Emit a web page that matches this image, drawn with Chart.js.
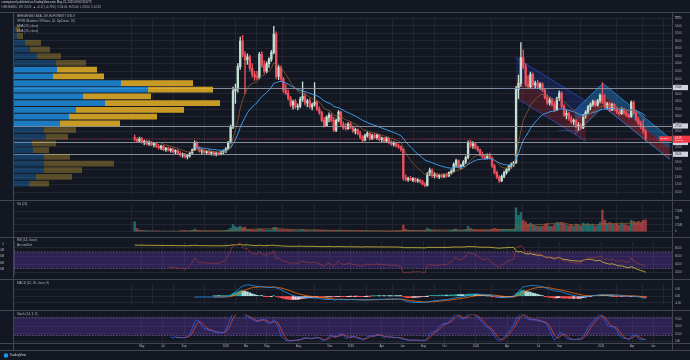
<!DOCTYPE html>
<html>
<head>
<meta charset="utf-8">
<script src="https://cdn.jsdelivr.net/npm/chart.js@4.4.1/dist/chart.umd.min.js"></script>
<style>
  body { margin: 0; background: #131722; width: 690px; height: 360px; overflow: hidden; position: relative; }
  canvas { position: absolute; }
</style>
</head>
<body>
<canvas id="cPrice" width="690" height="187" style="left:0;top:13px"></canvas>
<canvas id="cVP" width="658" height="100" style="left:14px;top:20px"></canvas>
<canvas id="cVol" width="690" height="37" style="left:0;top:200px"></canvas>
<canvas id="cRsi" width="690" height="42" style="left:0;top:237px"></canvas>
<canvas id="cMacd" width="690" height="31" style="left:0;top:279px"></canvas>
<canvas id="cStoch" width="690" height="40" style="left:0;top:310px"></canvas>
<canvas id="cFrame" width="690" height="360" style="left:0;top:0"></canvas>
<script>
// weekly bars, BerGenBio (OSE), first bar week of 10 Apr 2017
const firstBarDate = '2017-04-10';
const opens = [
  24.5,24.0,23.5,24.2,23.2,23.5,22.8,23.2,22.6,22.9, 22.1,21.8,22.2,21.3,21.6,21.1,21.4,20.7,21.0,20.3,
  19.9,20.1,19.4,19.7,20.4,21.2,23.0,21.8,20.9,21.1, 20.5,20.8,20.3,20.6,20.0,20.4,20.1,20.6,20.9,21.5,
  23.2,27.2,36.8,37.4,43.2,50.0,46.4,45.0,45.8,42.8, 41.2,40.4,40.3,46.5,43.6,42.0,44.0,45.2,47.0,51.8,
  40.6,43.0,40.0,37.0,36.2,34.8,33.0,34.0,32.6,32.8, 34.6,35.4,33.6,34.2,32.6,33.2,33.8,32.0,31.0,29.0,
  27.6,29.8,30.4,29.0,26.4,29.0,31.2,28.0,27.0,26.8, 28.0,27.2,26.2,26.6,25.5,24.6,23.8,25.0,25.6,24.2,
  25.0,24.5,25.1,23.9,24.3,23.5,24.3,23.1,22.7,23.0, 22.3,22.0,21.4,13.8,13.4,13.6,13.3,13.6,13.0,13.2,
  12.8,12.2,11.8,14.8,15.8,14.4,14.8,14.1,14.5,14.2, 14.6,14.3,15.2,15.6,17.4,18.4,16.8,17.1,18.0,19.2,
  23.2,22.4,22.8,21.8,21.2,20.0,19.4,19.0,19.8,19.1, 17.0,15.2,14.0,13.0,14.2,15.2,16.0,16.9,17.4,17.9,
  37.2,38.8,45.6,43.2,38.6,37.9,41.2,38.4,38.9,37.8, 38.6,37.0,35.0,33.6,34.4,33.2,31.8,34.8,36.2,32.8,
  30.4,30.9,29.5,28.6,29.0,27.4,27.8,27.0,30.2,31.2, 32.6,33.2,34.0,33.0,34.2,35.6,34.0,32.6,33.4,31.8,
  33.2,32.0,31.2,30.8,32.0,31.0,30.4,30.0,33.8,31.0, 29.2,28.2,27.4,26.2
];
const highs = [
  25.2,24.4,24.6,24.5,23.8,23.9,23.6,23.5,23.2,23.1, 22.6,22.5,22.4,21.9,22.0,21.7,21.6,21.3,21.2,20.8,
  20.4,20.3,20.0,20.6,21.5,23.6,23.4,22.0,21.4,21.3, 21.0,21.2,20.9,20.8,20.6,20.7,20.8,21.2,21.8,23.5,
  27.8,37.8,38.6,44.0,51.0,51.5,47.2,46.6,46.2,44.0, 42.0,42.0,47.0,47.2,44.8,44.5,45.6,47.5,53.9,52.4,
  43.6,43.4,40.4,38.6,37.0,35.4,34.4,34.6,33.4,35.2, 39.2,36.2,34.6,34.8,33.6,39.0,34.2,32.6,31.4,29.8,
  30.2,31.0,30.8,29.8,29.4,31.6,31.4,28.6,28.2,28.4, 28.6,27.6,27.0,26.8,26.2,25.0,25.4,26.0,25.8,25.4,
  25.6,25.4,25.3,24.6,24.5,24.6,24.4,23.6,23.4,23.2, 22.8,22.3,21.6,14.6,14.0,14.2,13.9,13.8,13.6,13.4,
  13.2,12.6,15.2,16.4,16.2,15.2,15.0,14.8,14.9,14.9, 15.0,15.4,16.0,17.8,18.8,18.6,17.4,18.4,19.6,23.6,
  23.8,23.4,23.0,22.2,21.4,20.6,19.9,20.2,20.4,19.4, 17.4,15.6,14.4,14.6,15.6,16.4,17.2,17.8,18.2,38.0,
  41.0,49.6,47.6,44.0,40.8,41.8,41.6,39.4,39.6,39.0, 39.0,37.4,35.8,35.0,34.8,34.0,35.2,36.8,36.6,33.2,
  31.6,31.2,30.2,29.4,29.2,28.4,28.2,30.6,31.6,33.0, 33.6,34.4,34.4,34.6,36.0,39.0,35.8,33.8,33.8,33.6,
  33.4,32.6,31.8,32.4,32.2,31.6,30.8,34.2,34.2,31.4, 29.8,28.8,29.2,26.6
];
const lows = [
  23.6,23.2,23.3,23.0,22.6,22.5,22.4,22.3,22.0,21.8, 21.4,21.3,21.0,20.8,20.9,20.6,20.4,20.2,20.0,19.5,
  19.2,19.0,18.8,19.3,20.0,21.0,21.4,20.6,20.2,20.3, 20.0,20.1,19.8,19.7,19.6,19.8,19.9,20.2,20.5,21.2,
  23.0,26.8,33.5,36.5,42.5,45.8,36.0,43.8,42.0,40.5, 39.6,39.8,40.0,43.0,41.5,41.6,43.0,44.6,46.6,40.0,
  39.8,39.6,36.4,35.8,34.4,32.6,32.0,32.2,31.8,32.3, 34.0,33.0,32.6,32.2,31.8,32.8,31.6,30.6,28.6,27.2,
  27.4,28.6,28.6,26.0,26.0,28.6,27.6,26.6,26.4,26.6, 26.8,25.8,25.4,25.2,24.2,23.4,23.6,24.6,23.8,23.9,
  24.2,24.0,23.6,23.4,23.2,23.2,22.8,22.4,22.2,21.9, 21.6,20.9,13.2,13.0,12.9,13.1,12.8,12.7,12.6,12.4,
  11.9,11.4,11.6,14.4,14.0,13.8,13.8,13.6,13.8,13.9, 14.0,14.1,14.8,15.4,16.8,16.4,16.2,16.8,17.6,18.8,
  21.8,21.6,21.4,20.8,19.6,19.0,18.6,18.8,18.8,16.6, 14.8,13.6,12.6,12.8,13.8,14.8,15.6,16.4,16.8,17.6,
  34.8,38.0,42.6,38.0,37.4,37.6,37.8,37.6,37.4,37.2, 36.6,34.6,33.2,33.0,32.8,31.4,31.6,34.2,32.4,30.0,
  29.4,29.0,28.2,27.8,27.0,26.4,26.6,26.8,29.6,30.8, 31.8,32.8,32.6,32.8,33.6,33.4,32.2,32.0,31.4,31.6,
  31.6,30.8,30.4,30.6,30.6,30.0,29.6,29.8,30.6,28.8, 27.8,26.8,25.6,23.6
];
const closes = [
  24.0,23.5,24.2,23.2,23.5,22.8,23.2,22.6,22.9,22.1, 21.8,22.2,21.3,21.6,21.1,21.4,20.7,21.0,20.3,19.9,
  20.1,19.4,19.7,20.4,21.2,23.0,21.8,20.9,21.1,20.5, 20.8,20.3,20.6,20.0,20.4,20.1,20.6,20.9,21.5,23.2,
  27.2,36.8,37.4,43.2,50.0,46.4,45.0,45.8,42.8,41.2, 40.4,40.3,46.5,43.6,42.0,44.0,45.2,47.0,51.8,40.6,
  43.0,40.0,37.0,36.2,34.8,33.0,34.0,32.6,32.8,34.6, 35.4,33.6,34.2,32.6,33.2,33.8,32.0,31.0,29.0,27.6,
  29.8,30.4,29.0,26.4,29.0,31.2,28.0,27.0,26.8,28.0, 27.2,26.2,26.6,25.5,24.6,23.8,25.0,25.6,24.2,25.0,
  24.5,25.1,23.9,24.3,23.5,24.3,23.1,22.7,23.0,22.3, 22.0,21.4,13.8,13.4,13.6,13.3,13.6,13.0,13.2,12.8,
  12.2,11.8,14.8,15.8,14.4,14.8,14.1,14.5,14.2,14.6, 14.3,15.2,15.6,17.4,18.4,16.8,17.1,18.0,19.2,23.2,
  22.4,22.8,21.8,21.2,20.0,19.4,19.0,19.8,19.1,17.0, 15.2,14.0,13.0,14.2,15.2,16.0,16.9,17.4,17.9,37.2,
  38.8,45.6,43.2,38.6,37.9,41.2,38.4,38.9,37.8,38.6, 37.0,35.0,33.6,34.4,33.2,31.8,34.8,36.2,32.8,30.4,
  30.9,29.5,28.6,29.0,27.4,27.8,27.0,30.2,31.2,32.6, 33.2,34.0,33.0,34.2,35.6,34.0,32.6,33.4,31.8,33.2,
  32.0,31.2,30.8,32.0,31.0,30.4,30.0,33.8,31.0,29.2, 28.2,27.4,26.2,24.18
];
// weekly volume, millions of shares
const volumes = [
  3.6,1.1,0.6,0.5,0.4,0.4,0.35,0.3,0.3,0.35, 0.3,0.25,0.3,0.25,0.2,0.25,0.3,0.25,0.2,0.3,
  0.25,0.3,0.25,0.3,0.5,1.0,0.6,0.35,0.3,0.25, 0.2,0.25,0.2,0.25,0.2,0.2,0.25,0.3,0.4,0.7,
  1.3,2.6,1.8,1.6,2.0,1.5,1.7,0.9,0.8,0.7, 0.6,0.6,1.1,0.8,0.6,0.6,0.5,0.7,1.6,1.5,
  0.8,0.7,0.7,0.6,0.6,0.5,0.5,0.4,0.4,0.5, 0.8,0.5,0.4,0.4,0.3,0.7,0.4,0.4,0.5,0.5,
  0.5,0.4,0.3,0.5,0.5,0.6,0.4,0.3,0.3,0.3, 0.3,0.3,0.3,0.25,0.3,0.35,0.3,0.3,0.25,0.25,
  0.2,0.25,0.25,0.2,0.2,0.25,0.25,0.3,0.25,0.3, 0.3,0.4,2.4,0.9,0.6,0.5,0.4,0.4,0.35,0.35,
  0.45,0.5,1.3,0.9,0.6,0.5,0.4,0.4,0.35,0.35, 0.3,0.45,0.5,0.9,1.0,0.7,0.5,0.6,0.8,2.0,
  1.1,0.8,0.7,0.6,0.6,0.6,0.5,0.5,0.5,0.9, 1.2,1.0,0.9,0.8,0.9,0.8,0.9,0.8,0.9,8.8,
  6.0,7.0,4.2,3.6,2.8,3.2,2.6,2.2,2.0,1.9, 2.0,2.8,3.0,2.0,1.9,2.6,3.4,3.2,3.4,3.0,
  2.4,2.2,2.6,2.0,2.8,2.4,2.0,3.2,2.8,3.0, 2.4,2.8,2.0,2.4,3.4,8.0,4.2,3.0,3.4,2.8,
  2.6,3.0,2.4,3.2,2.6,2.4,2.2,4.2,3.8,3.4, 3.8,3.4,4.2,4.4
];
// Accum/Dist as plotted, millions
const accDist = [
  -1.8,-2.0,-1.9,-2.1,-2.0,-2.2,-2.1,-2.3,-2.2,-2.4, -2.4,-2.3,-2.5,-2.4,-2.5,-2.4,-2.6,-2.5,-2.7,-2.8,
  -2.7,-2.9,-2.8,-2.7,-2.5,-2.2,-2.5,-2.7,-2.6,-2.8, -2.7,-2.9,-2.8,-3.0,-2.9,-3.0,-2.9,-2.8,-2.7,-2.4,
  -2.0,-1.4,-1.6,-1.3,-0.9,-1.5,-1.7,-1.5,-2.0,-2.3, -2.5,-2.6,-2.1,-2.5,-2.8,-2.6,-2.4,-2.2,-1.9,-2.9,
  -2.7,-3.0,-3.3,-3.4,-3.6,-3.8,-3.6,-3.8,-3.7,-3.5, -3.6,-3.8,-3.7,-3.9,-3.8,-3.9,-4.0,-4.1,-4.2,-4.3,
  -4.2,-4.1,-4.2,-4.4,-4.3,-4.1,-4.3,-4.4,-4.5,-4.4, -4.5,-4.6,-4.5,-4.6,-4.7,-4.8,-4.6,-4.5,-4.7,-4.6,
  -4.7,-4.6,-4.8,-4.7,-4.8,-4.7,-4.8,-4.9,-4.8,-4.9, -5.0,-5.1,-5.8,-5.9,-5.8,-5.9,-5.8,-6.0,-5.9,-6.0,
  -6.1,-6.2,-5.6,-5.3,-5.5,-5.4,-5.5,-5.4,-5.5,-5.4, -5.5,-5.3,-5.2,-4.9,-4.7,-5.0,-4.9,-4.8,-4.6,-4.1,
  -4.4,-4.3,-4.6,-4.8,-5.0,-5.2,-5.3,-5.1,-5.3,-5.7, -6.1,-6.4,-6.7,-6.4,-6.1,-5.9,-5.6,-5.5,-5.4,-11.0,
  -12.5,-11.8,-13.6,-15.2,-15.8,-15.0,-16.4,-17.0,-17.8,-17.4, -18.6,-20.0,-21.2,-20.8,-21.6,-22.8,-21.8,-21.2,-23.0,-24.6,
  -24.2,-25.2,-26.2,-25.8,-26.8,-26.5,-27.0,-25.6,-24.4,-24.0, -24.2,-24.6,-26.4,-26.0,-25.4,-28.4,-29.6,-30.5,-31.6,-31.0,
  -32.0,-33.2,-34.5,-34.0,-35.4,-36.6,-37.0,-35.4,-36.8,-38.7, -40.2,-41.6,-42.7,-43.9
];

const tickDates = ['2017-05-01','2017-07-01','2017-09-01','2018-01-01','2018-03-01','2018-05-01','2018-08-01',
  '2018-11-01','2019-01-01','2019-04-01','2019-06-01','2019-08-01','2019-10-01','2020-01-01','2020-04-01',
  '2020-07-01','2020-09-01','2021-01-01','2021-04-01','2021-06-01'];
const tickNames = ['May','Jul','Sep','2018','Mar','May','Aug','Nov','2019','Apr','Jun','Aug','Oct','2020','Apr','Jul','Sep','2021','Apr','Jun'];

const priceTicks = [10,12,14,16,18,20,22,24,26,28,30,32,34,36,38,40,42,44,46,48,50,52,54,56];
const volTicks = [0, 2.5, 5, 7.5];
const volTickNames = ['0', '2.50M', '5M', '7.50M'];
const rsiTicks = [20, 40, 60, 80];
const adTicks = [0, -10, -20, -30, -40];
const macdTicks = [-4, 0, 4];
const stochTicks = [0, 25, 50, 75];

// horizontal levels drawn on the chart, last price
const levels = [37.68, 27.54, 23.17, 20.06];
const lastPrice = 24.18;

// VPVR, 24 rows from top to bottom: up / down volume (relative), value-area flag
const vpUp   = [2, 3, 11, 16, 23, 42, 43, 39, 107, 134, 69, 91, 62, 55, 46, 30, 32, 18, 19, 30, 30, 30, 22, 15];
const vpDown = [4, 6, 16, 20, 24, 30, 40, 51, 72, 65, 68, 115, 108, 88, 60, 32, 22, 24, 16, 26, 70, 38, 36, 20];
const vpValueArea = [0,0,0,0,0,0,1,1,1,1,1,1,1,1,1,0,0,0,0,0,0,0,0,0];

// trend channels: [start bar, end bar] and prices of upper / middle / lower edge
const chanDarkBars = [158.9, 188.1];
const chanDarkUpper = [45.6, 34.1], chanDarkMid = [40.3, 28.8], chanDarkLower = [35.0, 23.5];
const chanUpBars = [183.5, 195.2];
const chanUpUpper = [31.6, 38.8], chanUpMid = [28.4, 35.7], chanUpLower = [25.3, 32.6];
const chanDownBars = [195.2, 223.1];
const chanDownUpper = [38.8, 24.3], chanDownMid = [35.8, 21.5], chanDownLower = [32.8, 18.7];
// channel deviation labels: bar, price, text
const chanLabels = [[152.5, 37.4, '0.6969470 (0.93124)'], [176.5, 26.4, '0.8489132 (0.93124)']];

// ---------------------------------------------------------------------------
const FONT = 'Liberation Sans';
const TXT = '#b2b5be';
const GRID = '#222633';
const LINE = '#363a45';
const UP = '#c2e0d2', DOWN = '#f0505c';
const X_MIN = -50.3, X_MAX = 224.0;

Chart.defaults.font.family = FONT;
Chart.defaults.animation = false;
Chart.defaults.plugins.legend.display = false;
Chart.defaults.plugins.tooltip.enabled = false;
Chart.defaults.events = [];

const WEEK = 7 * 86400000;
const barPos = d => (Date.parse(d) - Date.parse(firstBarDate)) / WEEK;
const tickVals = tickDates.map(barPos);
const idx = closes.map((c, i) => i);

function emaOf(src, n) {
  const out = src.map(() => null);
  const k = 2 / (n + 1);
  let prev = null, sum = 0, cnt = 0;
  src.forEach((v, i) => {
    if (v === null) return;
    if (prev === null) {
      sum += v; cnt++;
      if (cnt === n) { prev = sum / n; out[i] = prev; }
    } else { prev = v * k + prev * (1 - k); out[i] = prev; }
  });
  return out;
}
function smaOf(src, n) {
  return src.map((v, i) => {
    if (i < n - 1) return null;
    const w = src.slice(i - n + 1, i + 1);
    if (w.some(x => x === null)) return null;
    return w.reduce((a, b) => a + b, 0) / n;
  });
}
function rsiOf(src, n) {
  const out = src.map(() => null);
  let ag = 0, al = 0;
  for (let i = 1; i < src.length; i++) {
    const ch = src[i] - src[i - 1];
    const g = Math.max(ch, 0), l = Math.max(-ch, 0);
    if (i <= n) { ag += g / n; al += l / n; if (i < n) continue; }
    else { ag = (ag * (n - 1) + g) / n; al = (al * (n - 1) + l) / n; }
    out[i] = al === 0 ? 100 : 100 - 100 / (1 + ag / al);
  }
  return out;
}
const pts = arr => arr.map((v, i) => ({ x: i, y: v })).filter(p => p.y !== null);

// indicator lines follow their own definitions from the bars above
const ema12 = emaOf(closes, 12);
const ema26 = emaOf(closes, 26);
const macd = ema12.map((v, i) => (v === null || ema26[i] === null) ? null : v - ema26[i]);
const signal = emaOf(macd, 9);
const hist = macd.map((v, i) => (v === null || signal[i] === null) ? null : v - signal[i]);
const rsi = rsiOf(closes, 14);
const rawK = closes.map((c, i) => {
  if (i < 13) return null;
  const hh = Math.max(...highs.slice(i - 13, i + 1)), ll = Math.min(...lows.slice(i - 13, i + 1));
  return hh === ll ? 50 : 100 * (c - ll) / (hh - ll);
});
const stK = smaOf(rawK, 3), stD = smaOf(stK, 3);
const volMA = smaOf(volumes, 20);

// ---------------------------------------------------------------------------
function xAxis(show) {
  return {
    type: 'linear', min: X_MIN, max: X_MAX, offset: false,
    afterBuildTicks: s => { s.ticks = tickVals.map(v => ({ value: v })); },
    afterFit: s => { s.height = show ? 7 : 0; },
    grid: { color: GRID, drawTicks: false },
    border: { display: false },
    ticks: { display: show, color: TXT, font: { size: 2.8 }, padding: 2, maxRotation: 0, autoSkip: false,
      callback: (v, i) => tickNames[i] }
  };
}
function yAxis(min, max, vals, fmt) {
  return {
    position: 'right', min: min, max: max,
    afterBuildTicks: s => { s.ticks = vals.map(v => ({ value: v })); },
    afterFit: s => { s.width = 18; },
    grid: { color: GRID, drawTicks: false },
    border: { color: LINE },
    ticks: { color: TXT, font: { size: 2.6 }, padding: 3, callback: fmt }
  };
}

const paneText = {
  id: 'paneText',
  afterDraw(chart, args, opts) {
    const ctx = chart.ctx;
    ctx.save();
    ctx.font = '3px ' + FONT;
    ctx.fillStyle = TXT;
    ctx.textBaseline = 'middle';
    (opts.lines || []).forEach((t, k) => ctx.fillText(t, 17, (opts.top || 4) + k * 5));
    ctx.restore();
  }
};
const band = {
  id: 'band',
  beforeDatasetsDraw(chart, args, opts) {
    if (!opts.hi) return;
    const { ctx, chartArea: a } = chart;
    const y = chart.scales.y;
    const y1 = y.getPixelForValue(opts.hi), y2 = y.getPixelForValue(opts.lo);
    ctx.save();
    ctx.fillStyle = 'rgba(103,58,183,0.33)';
    ctx.fillRect(a.left, y1, a.right - a.left, y2 - y1);
    ctx.strokeStyle = '#6f6a80';
    ctx.setLineDash([1.5, 1.5]);
    ctx.lineWidth = 0.7;
    [y1, y2].forEach(yy => { ctx.beginPath(); ctx.moveTo(a.left, yy); ctx.lineTo(a.right, yy); ctx.stroke(); });
    ctx.restore();
  }
};

// ---------------------------- price pane ------------------------------------
const candleColors = closes.map((c, i) => c >= opens[i] ? UP : DOWN);
function chanSets(bars, upper, mid, lower, edge, fillTop, fillBot) {
  const mk = arr => bars.map((b, k) => ({ x: b, y: arr[k] }));
  return [
    { type: 'line', data: mk(upper), borderColor: edge, borderWidth: 0.8, pointRadius: 0, fill: false, order: 10 },
    { type: 'line', data: mk(mid), borderColor: 'rgba(242,54,69,0.35)', borderWidth: 0.6, pointRadius: 0, fill: '-1', backgroundColor: fillTop, order: 10 },
    { type: 'line', data: mk(lower), borderColor: edge, borderWidth: 0.8, pointRadius: 0, fill: '-1', backgroundColor: fillBot, order: 10 }
  ];
}

const priceMarks = {
  id: 'priceMarks',
  afterDatasetsDraw(chart) {
    const { ctx, chartArea: a } = chart;
    const x = chart.scales.x, y = chart.scales.y;
    ctx.save();
    levels.forEach(v => {
      const yy = Math.round(y.getPixelForValue(v)) + 0.5;
      ctx.strokeStyle = '#9598a1'; ctx.lineWidth = 0.9;
      ctx.beginPath(); ctx.moveTo(a.left, yy); ctx.lineTo(a.right, yy); ctx.stroke();
    });
    const yp = y.getPixelForValue(lastPrice);
    ctx.strokeStyle = '#f23645'; ctx.setLineDash([1, 1.5]); ctx.lineWidth = 0.6;
    ctx.beginPath(); ctx.moveTo(a.left, yp); ctx.lineTo(a.right, yp); ctx.stroke();
    ctx.setLineDash([]);
    ctx.font = '2.4px ' + FONT;
    ctx.fillStyle = '#3f7fe0';
    ctx.textBaseline = 'middle';
    chanLabels.forEach(([b, p, t]) => ctx.fillText(t, x.getPixelForValue(b), y.getPixelForValue(p)));
    ctx.restore();
  },
  afterDraw(chart) {
    const { ctx, chartArea: a } = chart;
    const y = chart.scales.y;
    ctx.save();
    ctx.font = '2.6px ' + FONT;
    ctx.textBaseline = 'middle';
    levels.forEach(v => {
      const yy = y.getPixelForValue(v);
      ctx.fillStyle = '#d1d4dc';
      ctx.fillRect(a.right + 1, yy - 2.6, 15, 5.2);
      ctx.fillStyle = '#131722';
      ctx.fillText(v.toFixed(2), a.right + 3, yy);
    });
    const yp = y.getPixelForValue(lastPrice);
    ctx.fillStyle = '#f23645';
    ctx.fillRect(a.right + 1, yp - 3, 17, 7);
    ctx.fillRect(a.right - 13, yp - 2.5, 13, 5);
    ctx.fillStyle = '#ffffff';
    ctx.fillText(lastPrice.toFixed(2), a.right + 3, yp - 0.8);
    ctx.font = '2px ' + FONT;
    ctx.fillText('1D 21:37', a.right + 3, yp + 2);
    ctx.font = '2.4px ' + FONT;
    ctx.fillText('BGBIO', a.right - 11.5, yp);
    ctx.fillStyle = TXT;
    ctx.fillText('NOK', a.right + 3, 3);
    ctx.restore();
  }
};

const priceChart = new Chart(document.getElementById('cPrice'), {
  type: 'bar',
  data: {
    datasets: [
      { data: idx.map(i => ({ x: i, y: [lows[i], highs[i]] })), backgroundColor: candleColors, barThickness: 0.7, order: 2 },
      { data: idx.map(i => ({ x: i, y: [opens[i], closes[i]] })), backgroundColor: candleColors, barThickness: 1.7, minBarLength: 0.8, order: 1 },
      { type: 'line', data: pts(ema12), borderColor: '#8d5a2e', borderWidth: 0.8, pointRadius: 0, order: 0 },
      { type: 'line', data: pts(ema26), borderColor: '#3d9be9', borderWidth: 1, pointRadius: 0, order: 0 },
      ...chanSets(chanDarkBars, chanDarkUpper, chanDarkMid, chanDarkLower, 'rgba(41,98,255,0.7)', 'rgba(41,70,200,0.22)', 'rgba(200,40,60,0.25)'),
      ...chanSets(chanUpBars, chanUpUpper, chanUpMid, chanUpLower, 'rgba(33,150,243,0.9)', 'rgba(33,150,243,0.35)', 'rgba(242,54,69,0.3)'),
      ...chanSets(chanDownBars, chanDownUpper, chanDownMid, chanDownLower, 'rgba(33,150,243,0.9)', 'rgba(33,150,243,0.35)', 'rgba(242,54,69,0.3)')
    ]
  },
  options: {
    responsive: false,
    layout: { padding: { left: 14 } },
    datasets: { bar: { grouped: false } },
    scales: {
      x: xAxis(false),
      y: yAxis(9.17, 56.19, priceTicks, v => v.toFixed(2))
    },
    plugins: {
      paneText: { top: 3, lines: ['BERGENBIO ASA, 1W, EURONEXT OSLO', 'VPVR (Number Of Rows, 24, Up/Down, 70)', 'EMA (12, close)', 'EMA (26, close)'] }
    }
  },
  plugins: [priceMarks, paneText]
});

// ---------------------------- volume profile --------------------------------
const ys = priceChart.scales.y;
const vpTop = 13 + ys.getPixelForValue(Math.max(...highs));
const vpBot = 13 + ys.getPixelForValue(Math.min(...lows));
const vpCanvas = document.getElementById('cVP');
vpCanvas.style.top = vpTop + 'px';
vpCanvas.height = Math.round(vpBot - vpTop);
new Chart(vpCanvas, {
  type: 'bar',
  data: {
    labels: vpUp.map((v, k) => 'r' + k),
    datasets: [
      { data: vpUp, backgroundColor: vpValueArea.map(f => f ? 'rgba(30,140,220,0.85)' : 'rgba(30,120,200,0.38)'), stack: 'v' },
      { data: vpDown, backgroundColor: vpValueArea.map(f => f ? 'rgba(232,178,38,0.85)' : 'rgba(200,160,50,0.38)'), stack: 'v' }
    ]
  },
  options: {
    responsive: false,
    indexAxis: 'y',
    datasets: { bar: { categoryPercentage: 1, barPercentage: 0.86 } },
    scales: {
      x: { stacked: true, min: 0, max: 658, display: false },
      y: { stacked: true, display: false }
    }
  }
});

// ---------------------------- volume pane -----------------------------------
const volColors = volumes.map((v, i) => (i === 0 || closes[i] >= closes[i - 1]) ? 'rgba(38,166,154,0.6)' : 'rgba(239,83,80,0.6)');
new Chart(document.getElementById('cVol'), {
  type: 'bar',
  data: {
    datasets: [
      { type: 'line', data: pts(volMA), borderColor: '#8d5a2e', borderWidth: 0.8, pointRadius: 0 },
      { data: idx.map(i => ({ x: i, y: volumes[i] })), backgroundColor: volColors, barThickness: 1.8 }
    ]
  },
  options: {
    responsive: false,
    layout: { padding: { left: 14 } },
    datasets: { bar: { grouped: false } },
    scales: {
      x: xAxis(false),
      y: yAxis(-0.278, 10, volTicks, (v, k) => volTickNames[k])
    },
    plugins: { paneText: { top: 4, lines: ['Vol (20)'] } }
  },
  plugins: [paneText]
});

// ---------------------------- RSI + Accum/Dist ------------------------------
new Chart(document.getElementById('cRsi'), {
  type: 'line',
  data: {
    datasets: [
      { data: pts(rsi), borderColor: '#9c3b44', borderWidth: 0.7, pointRadius: 0, yAxisID: 'y' },
      { data: pts(accDist), borderColor: '#d8c53a', borderWidth: 0.8, pointRadius: 0, yAxisID: 'yAD' }
    ]
  },
  options: {
    responsive: false,
    scales: {
      x: xAxis(false),
      y: yAxis(15.6, 95.1, rsiTicks, v => v.toFixed(2)),
      yAD: {
        position: 'left', min: -47.6, max: 3.66, grid: { display: false }, border: { color: LINE },
        afterBuildTicks: s => { s.ticks = adTicks.map(v => ({ value: v })); },
        afterFit: s => { s.width = 14; },
        ticks: { color: TXT, font: { size: 2.6 }, padding: 2, callback: v => v === 0 ? '0' : v + 'M' }
      }
    },
    plugins: {
      band: { hi: 70, lo: 30 },
      paneText: { top: 3.5, lines: ['RSI (14, close)', 'Accum/Dist'] }
    }
  },
  plugins: [band, paneText]
});

// ---------------------------- MACD ------------------------------------------
const histColors = hist.map((h, i) => {
  const p = i > 0 ? hist[i - 1] : null;
  const rising = p === null || h >= p;
  if (h >= 0) return rising ? '#26a69a' : '#b2dfdb';
  return rising ? '#ffcdd2' : '#ff5252';
});
new Chart(document.getElementById('cMacd'), {
  type: 'bar',
  data: {
    datasets: [
      { type: 'line', data: pts(macd), borderColor: '#2196f3', borderWidth: 0.8, pointRadius: 0 },
      { type: 'line', data: pts(signal), borderColor: '#ff6d00', borderWidth: 0.8, pointRadius: 0 },
      { data: idx.map(i => ({ x: i, y: hist[i] })), backgroundColor: histColors, barThickness: 1.8 }
    ]
  },
  options: {
    responsive: false,
    layout: { padding: { left: 14 } },
    datasets: { bar: { grouped: false } },
    scales: {
      x: xAxis(false),
      y: yAxis(-5.47, 7.28, macdTicks, v => v.toFixed(2))
    },
    plugins: { paneText: { top: 4, lines: ['MACD (12, 26, close, 9)'] } }
  },
  plugins: [paneText]
});

// ---------------------------- Stochastic ------------------------------------
new Chart(document.getElementById('cStoch'), {
  type: 'line',
  data: {
    datasets: [
      { data: pts(stK), borderColor: '#2962ff', borderWidth: 0.8, pointRadius: 0 },
      { data: pts(stD), borderColor: '#e0482c', borderWidth: 0.8, pointRadius: 0 }
    ]
  },
  options: {
    responsive: false,
    layout: { padding: { left: 14 } },
    scales: {
      x: xAxis(true),
      y: yAxis(-4.86, 89.4, stochTicks, v => v.toFixed(2))
    },
    plugins: {
      band: { hi: 80, lo: 20 },
      paneText: { top: 4, lines: ['Stoch (14, 3, 3)'] }
    }
  },
  plugins: [band, paneText]
});

// ---------------------------- frame, header, footer -------------------------
const f = document.getElementById('cFrame').getContext('2d');
f.strokeStyle = '#434651';
f.lineWidth = 1;
[12.5, 200.5, 237.5, 279.5, 310.5, 343.5, 350.5].forEach(yy => {
  f.beginPath(); f.moveTo(0, yy); f.lineTo(690, yy); f.stroke();
});
[[13.5, 12.5, 350.5], [672.5, 12.5, 350.5]].forEach(([xx, a, b]) => {
  f.beginPath(); f.moveTo(xx, a); f.lineTo(xx, b); f.stroke();
});
f.font = '2.8px ' + FONT;
f.textBaseline = 'middle';
f.fillStyle = '#d1d4dc';
f.fillText('coeniptravel published on TradingView.com, May 21, 2021 09:02:30 UTC', 1.5, 2.2);
f.fillStyle = TXT;
f.fillText('OSE:BGBIO, 1W  24.19  \u25B2 +0.17 (+0.70%)  O:24.00  H:25.00  L:23.64  C:24.19', 1.5, 7);
f.fillStyle = '#2196f3';
f.beginPath(); f.arc(6, 355.5, 2.2, 0, Math.PI * 2); f.fill();
f.fillStyle = '#d1d4dc';
f.font = '3px ' + FONT;
f.fillText('TradingView', 9.5, 355.5);
</script>
</body>
</html>
